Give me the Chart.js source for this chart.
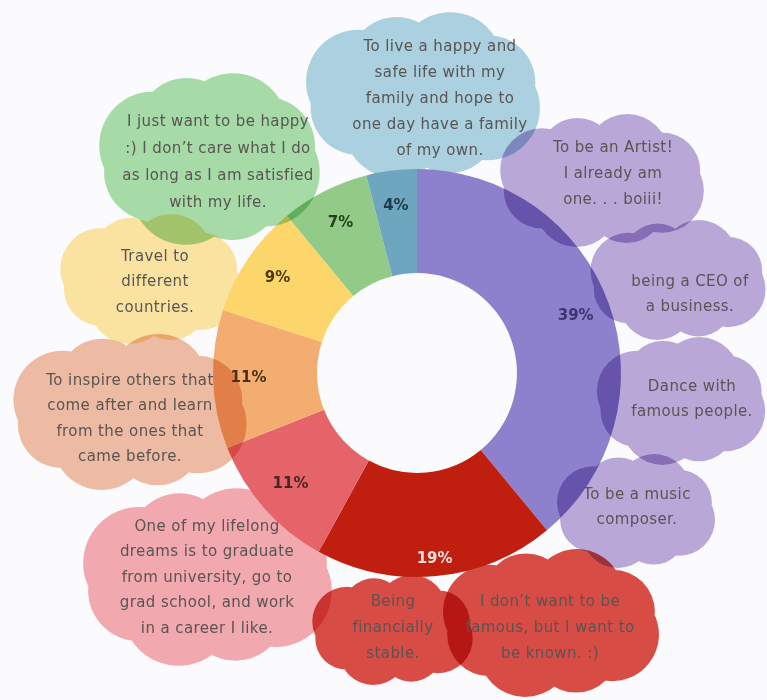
<!DOCTYPE html>
<html>
<head>
<meta charset="utf-8">
<script src="https://cdn.jsdelivr.net/npm/chart.js@4/dist/chart.umd.min.js"></script>
<style>
  html, body { margin: 0; padding: 0; background: #fbfbfd; }
  #wrap { width: 767px; height: 700px; position: relative; }
</style>
</head>
<body>
<div id="wrap"><canvas id="c" width="767" height="700"></canvas></div>
<script>
// ---- data ----
const categories = ['Fame & creative career', 'Success & recognition', 'Education', 'Inspire others', 'Travel', 'Happiness', 'Family'];
const values = [39, 19, 11, 11, 9, 7, 4];
const sliceColors = ['#8d80cc', '#c01f10', '#e5646a', '#f4ad70', '#fcd66b', '#92cb87', '#6da6be'];
const percentLabelColors = ['#3b3470', '#f7e1dc', '#4a2324', '#4a3018', '#4a3a12', '#24401f', '#1f3a48'];

// dream quotes (one cloud each)
const dreamTexts = [
  ['To live a happy and', 'safe life with my', 'family and hope to', 'one day have a family', 'of my own.'],
  ['I just want to be happy', ':) I don\u2019t care what I do', 'as long as I am satisfied', 'with my life.'],
  ['To be an Artist!', 'I already am', 'one. . . boiii!'],
  ['being a CEO of', 'a business.'],
  ['Dance with', 'famous people.'],
  ['To be a music', 'composer.'],
  ['Being', 'financially', 'stable.'],
  ['I don\u2019t want to be', 'famous, but I want to', 'be known. :)'],
  ['One of my lifelong', 'dreams is to graduate', 'from university, go to', 'grad school, and work', 'in a career I like.'],
  ['To inspire others that', 'come after and learn', 'from the ones that', 'came before.'],
  ['Travel to', 'different', 'countries.']
];

// ---- layout / style (not data) ----
const cloudColors = ['#abd0e0', '#a6dba8', '#b9a7d7', '#b9a7d7', '#b9a7d7', '#b9a7d7', '#d74d46', '#d74d46', '#f1a8af', '#edbba4', '#fae3a1'];
// [x, y, w, h, textCenterX, firstLineY, lineHeight, inFront]
const cloudBoxes = [
  [303, 12, 240, 166, 440, 47, 26, false],
  [97, 73, 225, 172, 218, 122, 27, true],
  [497, 114, 210, 133, 613, 148, 26, true],
  [588, 220, 180, 120, 690, 282, 25, true],
  [595, 337, 172, 128, 692, 387, 25, true],
  [555, 454, 162, 114, 637, 495, 25, true],
  [310, 575, 165, 110, 393, 602, 26, false],
  [440, 549, 222, 148, 550, 602, 26, false],
  [80, 488, 255, 178, 207, 527, 25.5, false],
  [10, 334, 240, 156, 130, 381, 25.5, true],
  [58, 214, 185, 130, 155, 257, 25.5, false]
];

function cloudPath(ctx, x, y, w, h) {
  const cx = x + w / 2, cy = y + h / 2;
  const r = Math.min(w, h) * 0.3;
  ctx.beginPath();
  const ix = x + r * 0.5, iy = y + r * 0.5, iw = w - r, ih = h - r;
  ctx.roundRect(ix, iy, iw, ih, r * 0.8);
  const n = 8;
  for (let i = 0; i < n; i++) {
    const a = i / n * 2 * Math.PI + 0.4;
    const px = cx + (w / 2 - r) * Math.cos(a);
    const py = cy + (h / 2 - r) * Math.sin(a);
    const rr = r * (i % 2 ? 0.95 : 1.05);
    ctx.moveTo(px + rr, py);
    ctx.arc(px, py, rr, 0, 2 * Math.PI);
  }
}

function drawClouds(ctx, front) {
  ctx.save();
  ctx.globalCompositeOperation = 'multiply';
  cloudBoxes.forEach((b, i) => {
    if (b[7] !== front) return;
    ctx.fillStyle = cloudColors[i];
    cloudPath(ctx, b[0], b[1], b[2], b[3]);
    ctx.fill();
  });
  ctx.restore();
}

const cloudsPlugin = {
  id: 'clouds',
  beforeDatasetsDraw(chart) { drawClouds(chart.ctx, false); },
  afterDatasetsDraw(chart) {
    const ctx = chart.ctx;
    drawClouds(ctx, true);
    // cloud text
    ctx.save();
    ctx.font = '15px "DejaVu Sans", sans-serif';
    if ('letterSpacing' in ctx) ctx.letterSpacing = '0.4px';
    ctx.fillStyle = '#5a5453';
    ctx.textAlign = 'center';
    ctx.textBaseline = 'middle';
    dreamTexts.forEach((lines, i) => {
      const b = cloudBoxes[i];
      lines.forEach((ln, j) => ctx.fillText(ln, b[4], b[5] + j * b[6]));
    });
    ctx.restore();
    // percentage labels
    const meta = chart.getDatasetMeta(0);
    const total = values.reduce((a, v) => a + v, 0);
    ctx.save();
    ctx.font = 'bold 15px "DejaVu Sans", sans-serif';
    ctx.textAlign = 'center';
    ctx.textBaseline = 'middle';
    meta.data.forEach((arc, i) => {
      const p = arc.getProps(['x', 'y', 'startAngle', 'endAngle', 'innerRadius', 'outerRadius'], true);
      const mid = (p.startAngle + p.endAngle) / 2;
      const f = i === 1 ? 0.84 : 0.66;
      const rad = p.innerRadius + (p.outerRadius - p.innerRadius) * f;
      ctx.fillStyle = percentLabelColors[i];
      ctx.fillText(Math.round(values[i] / total * 100) + '%', p.x + Math.cos(mid) * rad, p.y + Math.sin(mid) * rad);
    });
    ctx.restore();
  }
};

new Chart(document.getElementById('c'), {
  type: 'doughnut',
  data: {
    labels: categories,
    datasets: [{
      data: values,
      backgroundColor: sliceColors,
      borderWidth: 0
    }]
  },
  options: {
    responsive: false,
    animation: false,
    cutout: '49%',
    layout: { padding: { left: 213, right: 146, top: 169, bottom: 123 } },
    plugins: { legend: { display: false }, tooltip: { enabled: false } }
  },
  plugins: [cloudsPlugin]
});
</script>
</body>
</html>
